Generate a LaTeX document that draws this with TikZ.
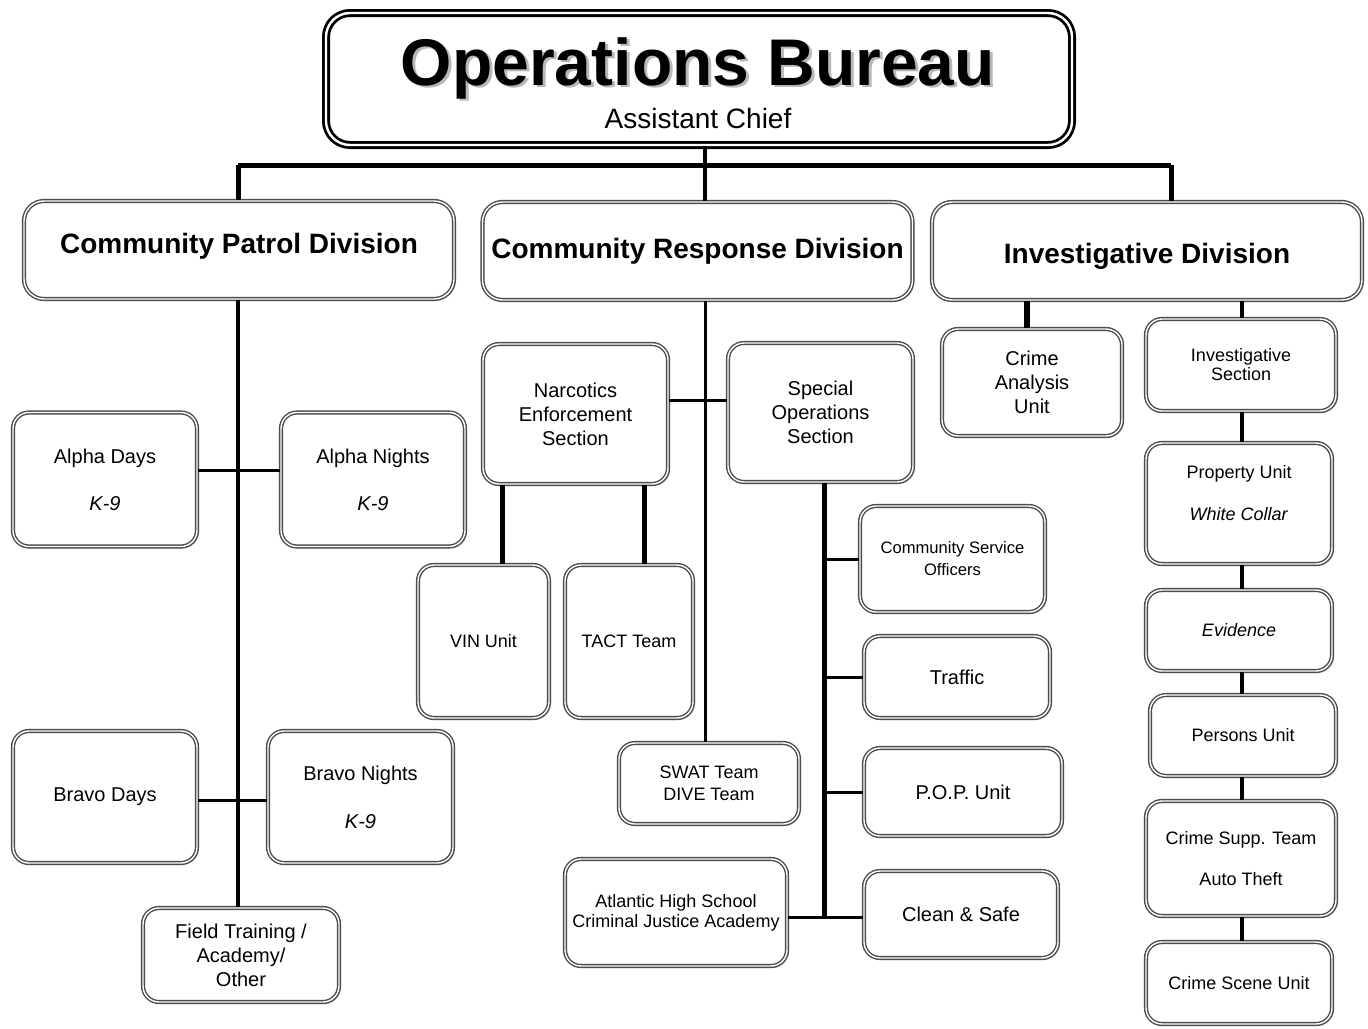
\documentclass[tikz,border=0pt]{standalone}
\usepackage{fontspec}
\setmainfont{Liberation Sans}
\usetikzlibrary{shadows}
\begin{document}
\begin{tikzpicture}[x=0.5pt,y=-0.5pt,
  box/.style={draw=black!70, line width=0.7pt, double=white, double distance=0.7pt,
    rounded corners=8pt, fill=white, align=center, inner sep=2pt,
    drop shadow={shadow xshift=1pt, shadow yshift=-1pt, fill=black!30, opacity=0.5}},
  divbox/.style={box, rounded corners=10pt, font=\fontsize{14}{17}\selectfont\bfseries},
  f10/.style={font=\fontsize{10}{12}\selectfont},
  f9/.style={font=\fontsize{9}{10.8}\selectfont},
  ln/.style={line width=1.5pt},
  lnm/.style={line width=2pt},
  lnb/.style={line width=2.5pt}
]
\useasboundingbox[fill=white] (0,0) rectangle (1368,1028);

% ---------- top box ----------
\node[draw=black, line width=1.4pt, double=white, double distance=1.2pt, rounded corners=12pt,
  fill=white, minimum width=373pt, minimum height=66pt,
  drop shadow={shadow xshift=1.5pt, shadow yshift=-1.5pt, fill=black!30, opacity=0.5}]
  (top) at (699,79) {};
\node[font=\fontsize{33}{33}\selectfont\bfseries, text=black!28, anchor=base] (ttls) at (701,87) {Operations Bureau};
\node[font=\fontsize{33}{33}\selectfont\bfseries, anchor=base] (ttl) at (698,85) {Operations Bureau};
\node[font=\fontsize{14}{15}\selectfont, anchor=base] (sub) at (698,128) {Assistant Chief};

% ---------- divisions ----------
\node[divbox, minimum width=215pt, minimum height=49pt, text height=10.5pt, text depth=6.9pt] (CPD) at (239,250) {Community Patrol Division};
\node[divbox, minimum width=215pt, minimum height=49pt, text height=10.5pt, text depth=3.4pt] (CRD) at (697.5,251) {Community Response Division};
\node[divbox, minimum width=215pt, minimum height=49pt, text height=15.5pt, text depth=2.9pt] (ID) at (1147,251) {Investigative Division};

% ---------- patrol ----------
\node[box, f10, minimum width=92pt, minimum height=67pt] (AD) at (105,479.5) {Alpha Days\\[11.5pt]\textit{K-9}};
\node[box, f10, minimum width=92pt, minimum height=67pt] (AN) at (373,479.5) {Alpha Nights\\[11.5pt]\textit{K-9}};
\node[box, f10, minimum width=92pt, minimum height=66pt] (BD) at (105,797) {Bravo Days};
\node[box, f10, minimum width=92.5pt, minimum height=66pt] (BN) at (360.5,797) {Bravo Nights\\[12pt]\textit{K-9}};
\node[box, f10, minimum width=98pt, minimum height=47pt] (FT) at (241,955) {Field Training /\\Academy/\\Other};

% ---------- response ----------
\node[box, f10, minimum width=92.5pt, minimum height=70pt] (NES) at (575.5,414) {Narcotics\\Enforcement\\Section};
\node[box, f10, minimum width=92.5pt, minimum height=69.5pt] (SOS) at (820.5,412.5) {Special\\Operations\\Section};
\node[box, f9, minimum width=65.5pt, minimum height=76.5pt] (VIN) at (483.5,641.5) {VIN Unit};
\node[box, f9, minimum width=64pt, minimum height=76.5pt] (TACT) at (629,641.5) {TACT Team};
\node[box, f9, minimum width=90pt, minimum height=40.5pt] (SWAT) at (709,783.5) {SWAT Team\\DIVE Team};
\node[box, font=\fontsize{9}{10}\selectfont, minimum width=111pt, minimum height=53.5pt] (ATL) at (676,912.5) {Atlantic High School\\Criminal Justice Academy};
\node[box, font=\fontsize{8.3}{11}\selectfont, minimum width=92.5pt, minimum height=53pt] (CSO) at (952.5,559) {Community Service\\Officers};
\node[box, f10, minimum width=93pt, minimum height=41pt] (TRF) at (957,677) {Traffic};
\node[box, f10, minimum width=99pt, minimum height=44pt] (POP) at (963,792) {P.O.P. Unit};
\node[box, f10, minimum width=97pt, minimum height=43.5pt] (CS) at (961,914.5) {Clean \& Safe};

% ---------- investigative ----------
\node[box, f10, minimum width=90pt, minimum height=53.5pt] (CAU) at (1032,382.5) {Crime\\Analysis\\Unit};
\node[box, font=\fontsize{9}{9.5}\selectfont, minimum width=95pt, minimum height=46pt] (IS) at (1241,365) {Investigative\\Section};
\node[box, f9, minimum width=93pt, minimum height=60.5pt] (PU) at (1239,503.5) {Property Unit\\[10pt]\textit{White Collar}\\[0pt]};
\node[box, f9, minimum width=93pt, minimum height=40.5pt] (EV) at (1239,630.5) {\textit{Evidence}};
\node[box, f9, minimum width=93pt, minimum height=40.5pt] (PER) at (1243,735.5) {Persons Unit};
\node[box, f9, minimum width=95pt, minimum height=57.5pt] (CST) at (1241,858.5) {Crime Supp. Team\\[10pt]Auto Theft};
\node[box, f9, minimum width=93pt, minimum height=41pt] (CSU) at (1239,983) {Crime Scene Unit};

% ---------- connectors ----------
\coordinate (busL) at (238,165);
\coordinate (busM) at (705,165);
\coordinate (busR) at (1171,165);
\draw[lnb] (busL) -- (busR);
\draw[lnm] (top.south -| busM) -- (CRD.north -| busM);
\draw[lnb] (busL) -- (busL |- CPD.north);
\draw[lnb] (busR) -- (busR |- ID.north);

\coordinate (cpx) at (238,0);
\draw[lnm] (cpx |- CPD.south) -- (cpx |- FT.north);
\coordinate (ay) at (0,470);
\coordinate (by) at (0,800);
\draw[ln] (AD.east |- ay) -- (AN.west |- ay);
\draw[ln] (BD.east |- by) -- (BN.west |- by);

\draw[ln] (busM |- CRD.south) -- (busM |- SWAT.north);
\coordinate (nsy) at (0,400);
\draw[ln] (NES.east |- nsy) -- (SOS.west |- nsy);
\coordinate (vinx) at (502,0);
\coordinate (tacx) at (644,0);
\draw[lnb] (vinx |- NES.south) -- (vinx |- VIN.north);
\draw[lnb] (tacx |- NES.south) -- (tacx |- TACT.north);
\coordinate (sox) at (824,0);
\coordinate (csy) at (0,917);
\draw[lnb] (sox |- SOS.south) -- (sox |- csy);
\draw[ln] (sox |- CSO.west) -- (CSO.west);
\draw[ln] (sox |- TRF.west) -- (TRF.west);
\draw[ln] (sox |- POP.west) -- (POP.west);
\draw[ln] (ATL.east |- csy) -- (CS.west |- csy);

\coordinate (cax) at (1027,0);
\coordinate (isx) at (1242,0);
\draw[line width=3pt] (cax |- ID.south) -- (cax |- CAU.north);
\draw[lnm] (isx |- ID.south) -- (isx |- IS.north);
\draw[lnm] (isx |- IS.south) -- (isx |- PU.north);
\draw[lnm] (isx |- PU.south) -- (isx |- EV.north);
\draw[lnm] (isx |- EV.south) -- (isx |- PER.north);
\draw[lnm] (isx |- PER.south) -- (isx |- CST.north);
\draw[lnm] (isx |- CST.south) -- (isx |- CSU.north);
\end{tikzpicture}
\end{document}
